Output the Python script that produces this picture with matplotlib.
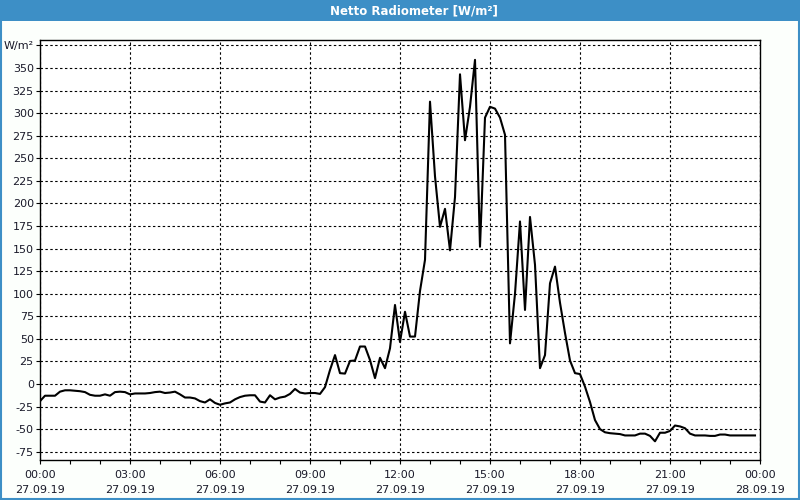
import matplotlib
matplotlib.use("Agg")
import matplotlib.pyplot as plt
import matplotlib.dates as mdates
from matplotlib.patches import Rectangle
import pandas as pd

# 10-minute samples, 27.09.19 00:00 .. 23:50
start = "2019-09-27 00:00"
values = [
    -19, -13, -13, -13, -8.5, -7, -7, -7.5, -8, -9,
    -12, -13, -13, -11.5, -13, -9, -8.5, -9, -11.5, -10.5,
    -10.5, -10.5, -10, -9, -8.5, -10, -9.5, -8.5, -11.5, -15,
    -15, -16, -19, -20.5, -17, -21, -23, -21.5, -20.5, -17,
    -14.5, -13, -12.5, -12.5, -19.5, -20.5, -12.5, -17, -15, -14,
    -11, -5.5, -9.5, -10.5, -10, -10, -11, -3.5, 15.5, 32,
    12, 11.5, 25.5, 26, 41.5, 41.5, 26.5, 6.5, 29, 17.5,
    39.5, 87.5, 46.5, 80, 52.5, 52.5, 103, 137.5, 312.7, 230,
    174, 194, 148, 207, 343, 270, 307, 359, 152, 295,
    307, 305, 295, 276, 45, 100, 180, 82, 185, 132,
    17.5, 32, 111.5, 130, 90, 56.5, 26, 12, 11, -3,
    -20, -40, -50, -53.5, -54.5, -55, -55.5, -57, -57, -57,
    -55, -55, -57.5, -63.5, -54, -54, -52, -46, -47, -49,
    -55, -57, -57, -57, -57.5, -57.5, -56, -56, -57, -57,
    -57, -57, -57, -57,
]
times = pd.date_range(start, periods=len(values), freq="10min")

y_ticks = list(range(-75, 376, 25))
y_labels = [str(v) for v in y_ticks[:-1]] + ["W/m²"]
x_ticks = pd.date_range("2019-09-27 00:00", "2019-09-28 00:00", freq="3h")
x_labels = [t.strftime("%H:%M\n%d.%m.%y") for t in x_ticks]

bar_blue = "#3d8fc6"
text_col = "#1a1a2a"

fig = plt.figure(figsize=(8, 5), dpi=100)
fig.patch.set_facecolor("#fcfffc")

# title bar and frame
fig.patches.append(Rectangle((0, 1 - 21 / 500), 1, 21 / 500, transform=fig.transFigure,
                             facecolor=bar_blue, edgecolor="none", zorder=0))
fig.patches.append(Rectangle((0.001, 0.002), 0.998, 0.996, transform=fig.transFigure,
                             facecolor="none", edgecolor=bar_blue, linewidth=1.5, zorder=1))
fig.text(0.5175, 1 - 10.5 / 500, "Netto Radiometer [W/m²]", color="white",
         fontsize=8.5, fontweight="bold", ha="center", va="center")

ax = fig.add_axes([0.05, 0.08, 0.9, 0.84])
ax.set_facecolor("white")

ax.plot(times, values, color="black", linewidth=1.5, zorder=3)

ax.set_xlim(x_ticks[0], x_ticks[-1])
ax.set_ylim(-84.2, 381)

ax.set_yticks(y_ticks)
ax.set_yticklabels(y_labels)
ax.set_xticks(x_ticks)
ax.set_xticklabels(x_labels, linespacing=1.6)
ax.xaxis.set_minor_locator(mdates.HourLocator())

ax.grid(True, which="major", color="black", linestyle=(0, (2.2, 2.2)), linewidth=0.8)
ax.tick_params(axis="both", which="both", direction="out", length=3, width=0.8,
               colors="black", labelcolor=text_col, labelsize=8)
ax.tick_params(axis="x", pad=4.5)
ax.tick_params(axis="y", pad=1.5)
for s in ax.spines.values():
    s.set_color("black")
    s.set_linewidth(1)

fig.savefig("out.png", dpi=100, facecolor=fig.get_facecolor())
